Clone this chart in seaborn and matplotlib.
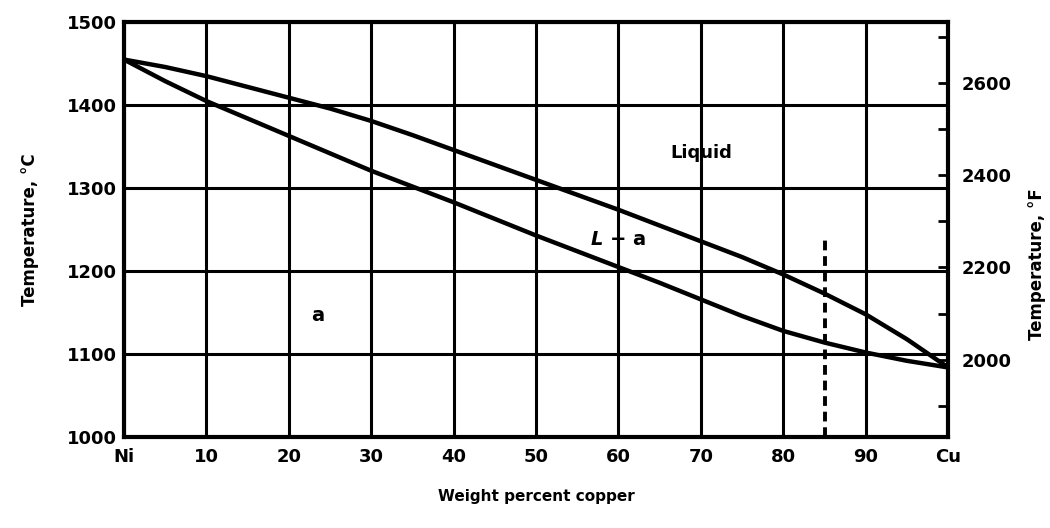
import numpy as np
import pandas as pd
import matplotlib
matplotlib.use("Agg")
import matplotlib.pyplot as plt
import seaborn as sns

# Cu-Ni phase diagram
wt_cu = [0, 5, 10, 15, 20, 25, 30, 35, 40, 45, 50, 55, 60, 65, 70, 75, 80, 85, 90, 95, 100]
liquidus = [1455, 1446, 1435, 1422, 1409, 1396, 1381, 1364, 1346, 1328, 1310,
            1292, 1274, 1255, 1236, 1217, 1196, 1173, 1148, 1118, 1084]
solidus = [1455, 1429, 1405, 1384, 1363, 1342, 1321, 1302, 1283, 1263, 1243,
           1224, 1205, 1186, 1166, 1146, 1128, 1114, 1102, 1092, 1084]

x_ticks = [0, 10, 20, 30, 40, 50, 60, 70, 80, 90, 100]
x_labels = ['Ni', '10', '20', '30', '40', '50', '60', '70', '80', '90', 'Cu']
y_ticks = [1000, 1100, 1200, 1300, 1400, 1500]
f_ticks = [2000, 2200, 2400, 2600]
f_minor = [1900, 2100, 2300, 2500, 2700]

alloy_x = 85
alloy_top = 1240

regions = ['Liquid', 'L + a', 'a']
region_x = [70, 60, 23.5]
region_y = [1342, 1238, 1147]

df = pd.DataFrame({
    'wt': wt_cu * 2,
    'T': liquidus + solidus,
    'curve': ['liquidus'] * len(wt_cu) + ['solidus'] * len(wt_cu),
})

sns.set_style("white")
plt.rcParams['font.family'] = ['DejaVu Sans']
plt.rcParams['font.weight'] = 'bold'
plt.rcParams['text.color'] = 'black'
plt.rcParams['axes.labelcolor'] = 'black'
plt.rcParams['xtick.color'] = 'black'
plt.rcParams['ytick.color'] = 'black'

fig = plt.figure(figsize=(10.5, 5.28), dpi=100)
ax = fig.add_axes([0.118, 0.172, 0.785, 0.786])

sns.lineplot(data=df, x='wt', y='T', units='curve', estimator=None,
             color='black', lw=3.2, ax=ax, legend=False)

ax.vlines(alloy_x, 1000, alloy_top, colors='black', linestyles=(0, (2.5, 1.5)), lw=2.8)

ax.set_xlim(0, 100)
ax.set_ylim(1000, 1500)
ax.set_xticks(x_ticks)
ax.set_xticklabels(x_labels)
ax.set_yticks(y_ticks)
ax.grid(True, color='black', lw=2.2)
ax.tick_params(length=0, labelsize=13, pad=8)
ax.tick_params(axis='y', pad=5)
for s in ax.spines.values():
    s.set_linewidth(3)
    s.set_color('black')
for lab in ax.get_xticklabels() + ax.get_yticklabels():
    lab.set_fontweight('bold')

ax.set_xlabel('Weight percent copper', fontsize=11, fontweight='bold', labelpad=16)
ax.set_ylabel('Temperature, °C', fontsize=12, fontweight='bold', labelpad=20)

for name, rx, ry in zip(regions, region_x, region_y):
    if name == 'L + a':
        ax.text(rx, ry, '$\\mathit{L}$ + a', fontsize=14, fontweight='bold',
                ha='center', va='center')
    else:
        ax.text(rx, ry, name, fontsize=13 if name != 'a' else 14,
                fontweight='bold', ha='center', va='center')

# Fahrenheit scale on the right
ax2 = ax.twinx()
ax2.set_ylim(1000 * 9 / 5 + 32, 1500 * 9 / 5 + 32)
ax2.set_yticks(f_ticks)
ax2.set_yticks(f_minor, minor=True)
ax2.tick_params(axis='y', which='both', direction='in', length=7, width=2,
                labelsize=13, pad=10, colors='black')
for lab in ax2.get_yticklabels():
    lab.set_fontweight('bold')
for s in ax2.spines.values():
    s.set_visible(False)
ax2.grid(False)
fig.text(0.988, 0.50, 'Temperature, °F', rotation=90, fontsize=12,
         fontweight='bold', ha='center', va='center')

fig.savefig('out.png', dpi=100, facecolor='white')
